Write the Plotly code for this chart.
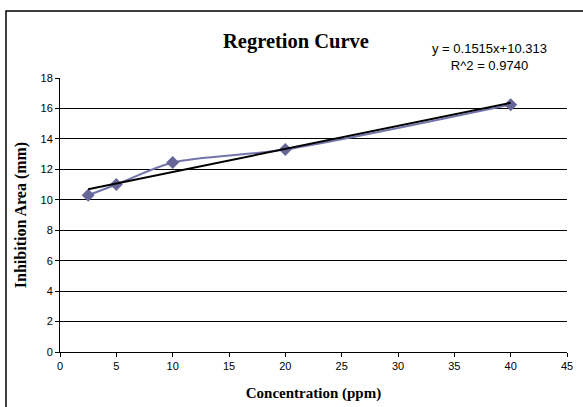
import plotly.graph_objects as go

conc = [2.5, 5, 10, 20, 40]
inhibition = [10.3, 11.0, 12.45, 13.3, 16.25]
slope = 0.1515
intercept = 10.313
x_ticks = [0, 5, 10, 15, 20, 25, 30, 35, 40, 45]
y_ticks = [0, 2, 4, 6, 8, 10, 12, 14, 16, 18]

trend_x = [min(conc), max(conc)]
trend_y = [slope * v + intercept for v in trend_x]

W, H = 583, 407
L, R, T, B = 60, 567, 78, 352

fig = go.Figure()
fig.add_trace(go.Scatter(
    x=conc, y=inhibition, mode="lines+markers",
    line=dict(color="#7474ad", width=2, shape="spline", smoothing=0.8),
    marker=dict(symbol="diamond", size=10, color="#666699"),
    showlegend=False,
))
fig.add_trace(go.Scatter(
    x=trend_x, y=trend_y, mode="lines",
    line=dict(color="black", width=2),
    showlegend=False,
))

def px_x(p):
    return (p - L) / (R - L)

def px_y(p):
    return (B - p) / (B - T)

fig.add_shape(type="rect", xref="paper", yref="paper",
              x0=px_x(6), x1=px_x(590), y0=px_y(415), y1=px_y(11),
              line=dict(color="black", width=1.5), layer="below")

fig.add_annotation(xref="paper", yref="paper", x=px_x(296), y=px_y(41),
                   xanchor="center", yanchor="middle",
                   text="<b>Regretion Curve</b>", showarrow=False,
                   font=dict(family="Liberation Serif", size=20.5, color="black"))
fig.add_annotation(xref="paper", yref="paper", x=px_x(489), y=px_y(57),
                   xanchor="center", yanchor="middle",
                   text="y = 0.1515x+10.313<br>R^2 = 0.9740", showarrow=False,
                   font=dict(family="Liberation Sans", size=13, color="black"),
                   align="center")

fig.update_layout(
    width=W, height=H,
    margin=dict(l=L, r=W - R, t=T, b=H - B),
    paper_bgcolor="white", plot_bgcolor="white",
    font=dict(family="Liberation Sans", size=11, color="black"),
    xaxis=dict(range=[0, 45], tickvals=x_ticks, showgrid=False, zeroline=False,
               showline=True, linecolor="black", linewidth=1, automargin=False,
               ticks="outside", ticklen=4, tickcolor="black",
               title=dict(text="<b>Concentration (ppm)</b>", standoff=16,
                          font=dict(family="Liberation Serif", size=15))),
    yaxis=dict(range=[0, 18], tickvals=y_ticks, showgrid=True, gridcolor="black",
               gridwidth=1, zeroline=False, automargin=False,
               showline=True, linecolor="black", linewidth=1,
               ticks="outside", ticklen=4, tickcolor="black",
               title=dict(text="<b>Inhibition Area (mm)</b>", standoff=9,
                          font=dict(family="Liberation Serif", size=16))),
)

fig.write_html("out.html", config={"displayModeBar": False},
               post_script="document.body.style.margin='0';document.body.style.overflow='hidden';")
